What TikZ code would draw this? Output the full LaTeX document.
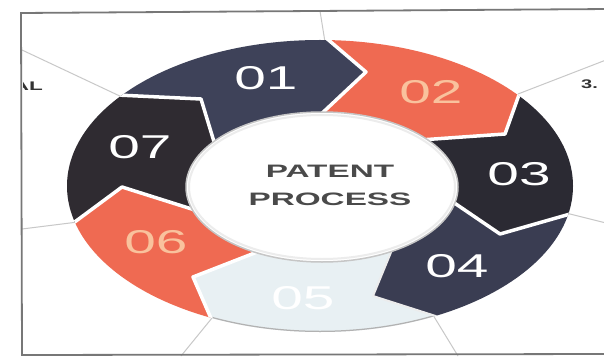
\documentclass[tikz,border=0pt]{standalone}
\usepackage{fontspec}
\usepackage{graphicx}
\setmainfont{Liberation Sans}
\usetikzlibrary{calc}
\definecolor{navy}{HTML}{3E4259}
\definecolor{navyb}{HTML}{3A3D52}
\definecolor{coal}{HTML}{2B2A33}
\definecolor{coalb}{HTML}{2F2B31}
\definecolor{salmon}{HTML}{EF6A52}
\definecolor{pale}{HTML}{E8F0F3}
\definecolor{peach}{HTML}{F9C29D}
\definecolor{textgray}{HTML}{4A4A4A}
\definecolor{framegray}{HTML}{777777}
\definecolor{linegray}{HTML}{C8C8C8}
\newcommand{\widetext}[2][1.72]{\scalebox{#1}[1]{#2}}
\begin{document}
\begin{tikzpicture}[x=1pt,y=-1pt,
  digit/.style={font=\fontsize{33}{33}\selectfont, text=white, inner sep=0pt},
  peachdigit/.style={digit, text=peach},
  title/.style={font=\bfseries\fontsize{18}{18}\selectfont, text=textgray, inner sep=0pt, anchor=base},
  side/.style={font=\bfseries\fontsize{12.5}{12.5}\selectfont, text=black!80, inner sep=0pt},
  seam/.style={draw=white, line width=3.5pt, line join=round, line cap=round},
  ray/.style={draw=linegray, line width=1pt},
  framel/.style={draw=framegray, line width=1.8pt}]
\useasboundingbox (0,0) rectangle (604,358);
\fill[white] (0,0) rectangle (604,358);

% background rays
\coordinate (r1a) at (320,11);  \coordinate (r1b) at (325,42);
\coordinate (r2a) at (22,50);   \coordinate (r2b) at (124,98);
\coordinate (r3a) at (606,60);  \coordinate (r3b) at (518,94);
\coordinate (r4a) at (606,223); \coordinate (r4b) at (566,213);
\coordinate (r5a) at (22,229);  \coordinate (r5b) at (78,222);
\coordinate (r6a) at (181,356); \coordinate (r6b) at (212,318);
\coordinate (r7a) at (458,356); \coordinate (r7b) at (433,315);
\foreach \i in {1,...,7} {\draw[ray] (r\i a) -- (r\i b);}

% frame
\coordinate (f1) at (21,13);
\coordinate (f2) at (610,9);
\coordinate (f3) at (22,355);
\coordinate (f4) at (610,354);
\draw[framel] (f2) -- (f1) -- (f3) -- (f4);

% side labels
\begin{scope}
\clip (23,0) rectangle (100,120);
\node[side, anchor=base east] (lblL) at (43,91) {\widetext[1.8]{AL}};
\end{scope}
\node[side, anchor=base west] (lbl3) at (581,89) {\widetext[1.6]{3.}};

% ring geometry
\coordinate (C) at (321,187);
\coordinate (o12) at (325,37);  \coordinate (t12) at (366,72);  \coordinate (i12) at (318,117);
\coordinate (o23) at (520,92);  \coordinate (t23) at (505,134); \coordinate (i23) at (420,140);
\coordinate (o34) at (577,212); \coordinate (t34) at (500,234); \coordinate (i34) at (450,200);
\coordinate (o45) at (445,319); \coordinate (t45) at (373,296); \coordinate (i45) at (394,245);
\coordinate (o56) at (213,323); \coordinate (t56) at (193,277); \coordinate (i56) at (270,247);
\coordinate (o67) at (72,224);  \coordinate (t67) at (122,187); \coordinate (i67) at (198,211);
\coordinate (o71) at (117,95);  \coordinate (t71) at (201,99);  \coordinate (i71) at (215,145);
\foreach \b in {12,23,34,45,56,67,71} {\coordinate (e\b) at ($(C)!2.5!(o\b)$);}

\begin{scope}
\clip (320,186) ellipse [x radius=253, y radius=146];
\fill[navy]   (C) -- (i71) -- (t71) -- (o71) -- (e71) -- (e12) -- (o12) -- (t12) -- (i12) -- cycle;
\fill[salmon] (C) -- (i12) -- (t12) -- (o12) -- (e12) -- (e23) -- (o23) -- (t23) -- (i23) -- cycle;
\fill[coal]   (C) -- (i23) -- (t23) -- (o23) -- (e23) -- (e34) -- (o34) -- (t34) -- (i34) -- cycle;
\fill[navyb]  (C) -- (i34) -- (t34) -- (o34) -- (e34) -- (e45) -- (o45) -- (t45) -- (i45) -- cycle;
\fill[pale]   (C) -- (i45) -- (t45) -- (o45) -- (e45) -- (e56) -- (o56) -- (t56) -- (i56) -- cycle;
\fill[salmon] (C) -- (i56) -- (t56) -- (o56) -- (e56) -- (e67) -- (o67) -- (t67) -- (i67) -- cycle;
\fill[coalb]  (C) -- (i67) -- (t67) -- (o67) -- (e67) -- (e71) -- (o71) -- (t71) -- (i71) -- cycle;
\begin{scope}
\clip (C) -- (i45) -- (t45) -- (o45) -- (e45) -- (e56) -- (o56) -- (t56) -- (i56) -- cycle;
\draw[gray!60, line width=2.5pt] (320,186) ellipse [x radius=253, y radius=146];
\end{scope}
\foreach \b in {12,23,34,56,67,71} {\draw[seam] (i\b) -- (t\b) -- (o\b);}
\draw[draw=white!85!gray, line width=2pt, line join=round] (i45) -- (t45) -- (o45);
\end{scope}

% inner ellipse
\fill[white] (322,187) ellipse [x radius=136, y radius=75];
\draw[gray!45, line width=1.5pt] (322,187) ellipse [x radius=136, y radius=75];
\draw[gray!15, line width=2pt] (322,187) ellipse [x radius=133, y radius=72];

% titles
\node[title] (t1) at (330,177) {\widetext[1.85]{PATENT}};
\node[title] (t2) at (330,205) {\widetext[1.85]{PROCESS}};

% digits
\node[digit] (d1) at (266,78) {\widetext{01}};
\node[peachdigit] (d2) at (431,92) {\widetext{02}};
\node[digit] (d3) at (519,174) {\widetext{03}};
\node[digit] (d4) at (457,266) {\widetext{04}};
\node[digit] (d5) at (303,298) {\widetext{05}};
\node[peachdigit] (d6) at (156,242) {\widetext{06}};
\node[digit] (d7) at (140,147) {\widetext{07}};
\end{tikzpicture}
\end{document}
